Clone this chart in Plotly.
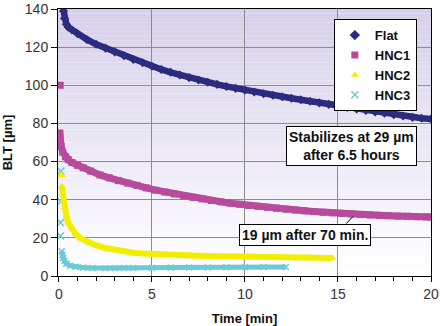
import plotly.graph_objects as go

# ---------------- data ----------------
flat_t = [0.25, 0.3, 0.4, 0.5, 0.7, 1.0, 1.5, 2.0, 2.5, 3.0, 3.5, 4.0, 4.5, 5.0, 5.5, 6.0,
          6.5, 7.0, 7.5, 8.0, 8.5, 9.0, 9.5, 10, 10.5, 11, 11.5, 12, 12.5, 13, 13.5, 14,
          14.5, 15, 15.5, 16, 16.5, 17, 17.5, 18, 18.5, 19, 19.5, 20]
flat_v = [139, 135, 132, 130.5, 129, 127, 124, 121.5, 119.5, 117.5, 115.5, 113.5, 111.8, 110,
          108.3, 106.8, 105.4, 104, 102.8, 101.6, 100.5, 99.4, 98.4, 97.4, 96.5, 95.6, 94.8,
          94, 93.2, 92.4, 91.6, 90.8, 90, 89.2, 88.4, 87.6, 86.8, 86, 85.3, 84.6, 83.9, 83.2,
          82.7, 82.3]

hnc1_early_t = [0.07]
hnc1_early_v = [100]
hnc1_t = [0.05, 0.05, 0.12, 0.2, 0.35, 0.5, 0.7, 1.0, 1.3, 1.7, 2.2, 2.7, 3.2, 3.7, 4.2, 4.7,
          5.2, 5.7, 6.2, 6.7, 7.2, 7.7, 8.2, 8.7, 9.2, 9.7, 10.2, 10.7, 11.2, 11.7, 12.2,
          12.7, 13.2, 13.7, 14.2, 14.7, 15.2, 15.7, 16.2, 16.7, 17.2, 17.7, 18.2, 18.7,
          19.2, 19.7, 20]
hnc1_v = [75, 71, 68, 65, 62.5, 61, 59.5, 58, 56.7, 55, 53, 51.5, 50, 48.7, 47.5, 46.2, 45,
          44, 43, 42, 41.2, 40.4, 39.6, 38.9, 38.2, 37.6, 37, 36.5, 36, 35.5, 35, 34.6, 34.2,
          33.8, 33.4, 33.1, 32.8, 32.5, 32.2, 32, 31.8, 31.6, 31.4, 31.3, 31.1, 31.0, 30.9]

hnc2_early_t = [0.12]
hnc2_early_v = [53]
hnc2_t = [0.15, 0.2, 0.25, 0.3, 0.4, 0.5, 0.7, 0.9, 1.2, 1.6, 2.0, 2.5, 3.0, 3.5, 4.0, 4.5,
          5.0, 5.5, 6.0, 6.5, 7.0, 7.5, 8.0, 8.5, 9.0, 9.5, 10, 10.5, 11, 11.5, 12, 12.5,
          13, 13.5, 14, 14.7]
hnc2_v = [47, 43, 39.5, 36, 31.5, 28, 24.5, 22, 19.5, 17.5, 16, 14.7, 13.6, 12.8, 12.2, 11.8,
          11.5, 11.2, 11.0, 10.8, 10.7, 10.6, 10.5, 10.4, 10.3, 10.2, 10.1, 10.0, 9.9, 9.9,
          9.8, 9.8, 9.7, 9.7, 9.6, 9.5]

hnc3_early_t = [0.1, 0.1, 0.08, 0.08]
hnc3_early_v = [55, 39, 28, 21]
hnc3_t = [0.15, 0.18, 0.22, 0.3, 0.4, 0.6, 0.9, 1.3, 1.8, 2.5, 3.0, 3.5, 4.0, 5.0, 6.0, 7.0,
          8.0, 9.0, 10.0, 11.0, 12.2]
hnc3_v = [13, 11, 9.5, 8, 6.5, 5.4, 4.8, 4.4, 4.2, 4.1, 4.1, 4.2, 4.2, 4.3, 4.4, 4.5, 4.5,
          4.6, 4.6, 4.7, 4.7]

series_names = ["Flat", "HNC1", "HNC2", "HNC3"]
y_ticks = [0, 20, 40, 60, 80, 100, 120, 140]
x_ticks = [0, 5, 10, 15, 20]

# ---------------- styles ----------------
C_FLAT = "#2b2b80"
C_HNC1 = "#b84a9c"
C_HNC2 = "#f2ee00"
C_HNC3 = "#6ccad6"
FONT = "Liberation Sans, Arial, sans-serif"

fig = go.Figure()

def band(t, v, color, symbol, msize, lw, mline=None):
    marker = dict(symbol=symbol, size=msize, color=color)
    if mline:
        marker["line"] = mline
    fig.add_trace(go.Scatter(x=t, y=v, mode="lines+markers",
                             line=dict(color=color, width=lw), marker=marker,
                             showlegend=False, hoverinfo="skip"))

def dots(t, v, color, symbol, msize, mline=None):
    marker = dict(symbol=symbol, size=msize, color=color)
    if mline:
        marker["line"] = mline
    fig.add_trace(go.Scatter(x=t, y=v, mode="markers", marker=marker,
                             showlegend=False, hoverinfo="skip"))

x_line = dict(color=C_HNC3, width=1.5)

band(hnc3_t, hnc3_v, C_HNC3, "x-thin", 6, 5, x_line)
dots(hnc3_early_t, hnc3_early_v, C_HNC3, "x-thin", 7, x_line)
band(hnc2_t, hnc2_v, C_HNC2, "triangle-up", 7, 6)
dots(hnc2_early_t, hnc2_early_v, C_HNC2, "triangle-up", 8)
band(hnc1_t, hnc1_v, C_HNC1, "square", 7, 7)
dots(hnc1_early_t, hnc1_early_v, C_HNC1, "square", 7)
band(flat_t, flat_v, C_FLAT, "diamond", 7, 6.5)

# legend-only entries
legend_styles = [
    (C_FLAT, "diamond", 8, None),
    (C_HNC1, "square", 7, None),
    (C_HNC2, "triangle-up", 7, None),
    (C_HNC3, "x-thin", 7, x_line),
]
for name, (col, sym, sz, ml) in zip(series_names, legend_styles):
    mk = dict(symbol=sym, size=sz, color=col)
    if ml:
        mk["line"] = ml
    fig.add_trace(go.Scatter(x=[None], y=[None], mode="markers", name=name, marker=mk))

# gradient background for the plot area
shapes = []
N = 60
top = (214, 208, 234)
bot = (255, 255, 255)
for i in range(N):
    f = i / (N - 1)
    c = tuple(round(top[k] + (bot[k] - top[k]) * f) for k in range(3))
    shapes.append(dict(type="rect", xref="paper", yref="paper",
                       x0=0, x1=1, y0=1 - (i + 1) / N, y1=1 - i / N,
                       fillcolor="rgb(%d,%d,%d)" % c, line=dict(width=0), layer="below"))
# leader line of the lower annotation
shapes.append(dict(type="line", xref="x", yref="y", x0=15.45, y0=27.5, x1=15.8, y1=31.2,
                   line=dict(color="black", width=1), layer="above"))

ann_font = dict(family=FONT, size=14, color="#111")
annotations = [
    dict(x=15.7, y=68.3, xref="x", yref="y", showarrow=False,
         text="<b>Stabilizes at 29 µm<br>after 6.5 hours</b>", font=ann_font,
         bgcolor="white", bordercolor="black", borderwidth=1, borderpad=2),
    dict(x=13.2, y=21.3, xref="x", yref="y", showarrow=False,
         text="<b>19 µm after 70 min.</b>", font=ann_font,
         bgcolor="white", bordercolor="black", borderwidth=1, borderpad=2),
]

tick_font = dict(family=FONT, size=14, color="#333")
title_font = dict(family=FONT, size=13, color="#111")

fig.update_layout(
    width=442, height=326,
    margin=dict(l=58, r=11, t=9, b=50, autoexpand=False),
    paper_bgcolor="white", plot_bgcolor="white",
    shapes=shapes, annotations=annotations,
    showlegend=True,
    legend=dict(x=0.962, y=0.962, xanchor="right", yanchor="top",
                bgcolor="white", bordercolor="black", borderwidth=1,
                font=dict(family=FONT, size=13, color="#111", weight="bold"),
                itemsizing="trace", tracegroupgap=0, itemwidth=30),
    xaxis=dict(range=[-0.05, 20], tickvals=x_ticks, showgrid=True, gridcolor="#8c8c8c",
               gridwidth=1, zeroline=False, showline=True, linecolor="black", linewidth=1,
               mirror=True, ticks="outside", ticklen=5, tickcolor="black",
               minor=dict(dtick=1, ticks="outside", ticklen=4, tickcolor="black", showgrid=False),
               tickfont=tick_font, automargin=False,
               title=dict(text="<b>Time [min]</b>", font=title_font, standoff=13)),
    yaxis=dict(range=[0, 140], tickvals=y_ticks, showgrid=True, gridcolor="#8c8c8c",
               gridwidth=1, zeroline=False, showline=True, linecolor="black", linewidth=1,
               mirror=True, ticks="outside", ticklen=6, tickcolor="black",
               tickfont=tick_font, automargin=False,
               title=dict(text="<b>BLT [µm]</b>", font=title_font, standoff=10)),
)

fig.write_html("out.html")
